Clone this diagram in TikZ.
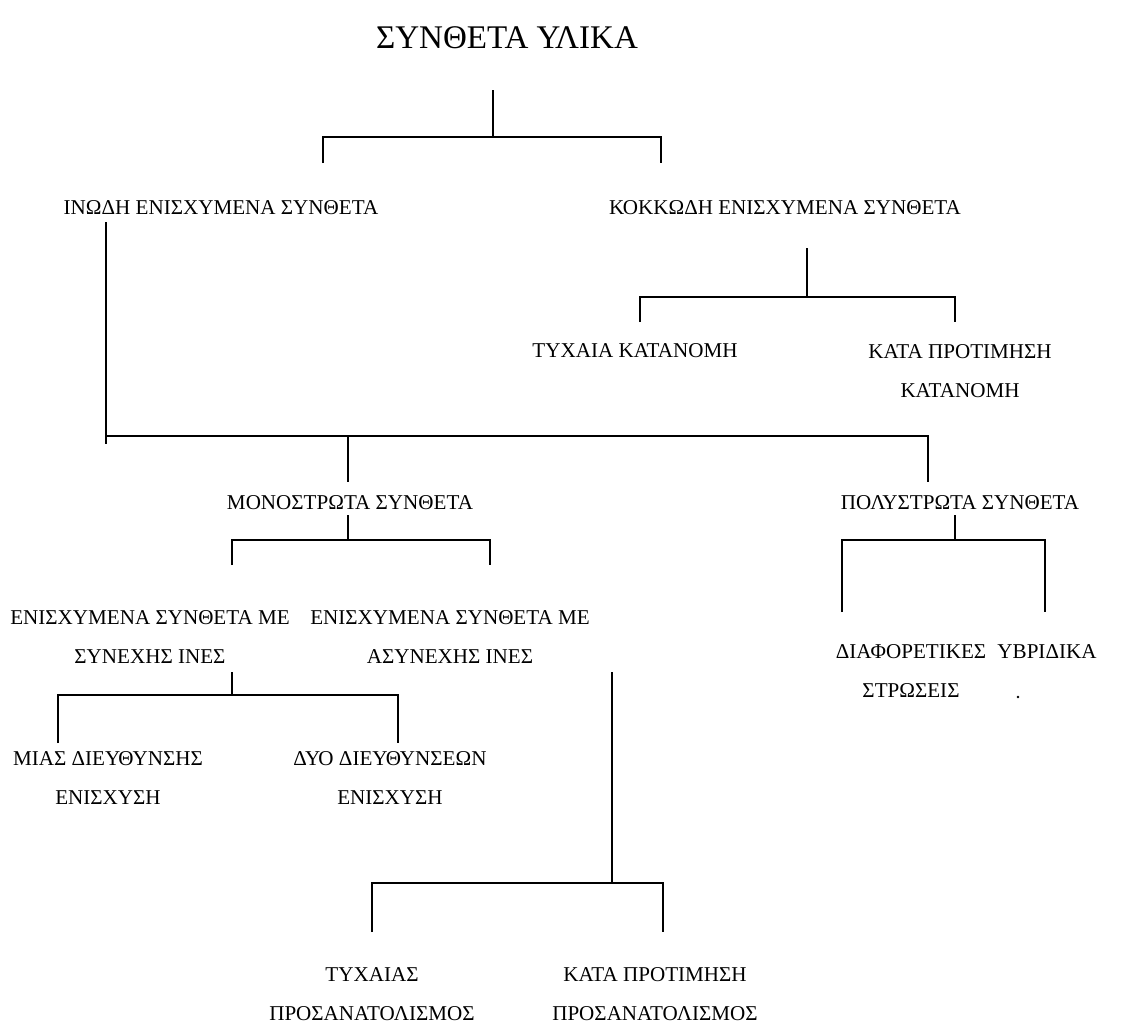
\documentclass[tikz,border=0pt]{standalone}
\usepackage{fontspec}
\setmainfont{Liberation Serif}

\begin{document}
\begin{tikzpicture}[x=0.025cm, y=-0.025cm]
\tikzset{
    %Define style for the labels
    lbl/.style={
           font=\fontsize{15}{27.7}\selectfont,
           align=center,
           inner sep=0pt},
    %Define style for the title
    ttl/.style={
           font=\fontsize{23.5}{28}\selectfont,
           inner sep=0pt},
    % Define line style
    tree/.style={
           line width=1.3pt}
}
\useasboundingbox (0,0) rectangle (1122,1028);
 %nodes
 \node[ttl] (ylika) at (507,38) {ΣΥΝΘΕΤΑ ΥΛΙΚΑ};
 \node[lbl] (inodi) at (221,208) {ΙΝΩΔΗ ΕΝΙΣΧΥΜΕΝΑ ΣΥΝΘΕΤΑ};
 \node[lbl] (kokkodi) at (785,208) {ΚΟΚΚΩΔΗ ΕΝΙΣΧΥΜΕΝΑ ΣΥΝΘΕΤΑ};
 \node[lbl] (tyxaia) at (635,351) {ΤΥΧΑΙΑ ΚΑΤΑΝΟΜΗ};
 \node[lbl] (protim) at (960,371) {ΚΑΤΑ ΠΡΟΤΙΜΗΣΗ\\ΚΑΤΑΝΟΜΗ};
 \node[lbl] (mono) at (350,503) {ΜΟΝΟΣΤΡΩΤΑ ΣΥΝΘΕΤΑ};
 \node[lbl] (poly) at (960,503) {ΠΟΛΥΣΤΡΩΤΑ ΣΥΝΘΕΤΑ};
 \node[lbl] (syn) at (150,637) {ΕΝΙΣΧΥΜΕΝΑ ΣΥΝΘΕΤΑ ΜΕ\\ΣΥΝΕΧΗΣ ΙΝΕΣ};
 \node[lbl] (asyn) at (450,637) {ΕΝΙΣΧΥΜΕΝΑ ΣΥΝΘΕΤΑ ΜΕ\\ΑΣΥΝΕΧΗΣ ΙΝΕΣ};
 \node[lbl] (diaf) at (911,671) {ΔΙΑΦΟΡΕΤΙΚΕΣ\\ΣΤΡΩΣΕΙΣ};
 \node[lbl] (yvr) at (1047,652) {ΥΒΡΙΔΙΚΑ};
 \node[lbl] (mias) at (108,778) {ΜΙΑΣ ΔΙΕΥΘΥΝΣΗΣ\\ΕΝΙΣΧΥΣΗ};
 \node[lbl] (dyo) at (390,778) {ΔΥΟ ΔΙΕΥΘΥΝΣΕΩΝ\\ΕΝΙΣΧΥΣΗ};
 \node[lbl] (typros) at (372,994) {ΤΥΧΑΙΑΣ\\ΠΡΟΣΑΝΑΤΟΛΙΣΜΟΣ};
 \node[lbl] (prpros) at (655,994) {ΚΑΤΑ ΠΡΟΤΙΜΗΣΗ\\ΠΡΟΣΑΝΑΤΟΛΙΣΜΟΣ};
 \fill (1018,697) circle (1.4);

 %junction points
 \coordinate (st0) at (493,90);  \coordinate (j0) at (493,137);
 \coordinate (l0a) at (323,163); \coordinate (l0b) at (661,163);
 \coordinate (st1) at (807,248); \coordinate (j1) at (807,297);
 \coordinate (l1a) at (640,322); \coordinate (l1b) at (955,322);
 \coordinate (st2) at (106,222); \coordinate (j2) at (106,436);
 \coordinate (l2a) at (348,482); \coordinate (l2b) at (928,482);
 \coordinate (st3) at (348,515); \coordinate (j3) at (348,540);
 \coordinate (l3a) at (232,565); \coordinate (l3b) at (490,565);
 \coordinate (st4) at (955,515); \coordinate (j4) at (955,540);
 \coordinate (l4a) at (842,612); \coordinate (l4b) at (1045,612);
 \coordinate (st5) at (232,672); \coordinate (j5) at (232,695);
 \coordinate (l5a) at (58,743);  \coordinate (l5b) at (398,743);
 \coordinate (st6) at (612,672); \coordinate (j6) at (612,883);
 \coordinate (l6a) at (372,932); \coordinate (l6b) at (663,932);

 %brackets
 \draw[tree] (st0) -- (j0);
 \draw[tree] (l0a) |- (j0) -| (l0b);
 \draw[tree] (st1) -- (j1);
 \draw[tree] (l1a) |- (j1) -| (l1b);
 \draw[tree] (st2) -- ([yshift=-8*0.025cm]j2);
 \draw[tree] (j2) -| (l2a);
 \draw[tree] (j2) -| (l2b);
 \draw[tree] (st3) -- (j3);
 \draw[tree] (l3a) |- (j3) -| (l3b);
 \draw[tree] (st4) -- (j4);
 \draw[tree] (l4a) |- (j4) -| (l4b);
 \draw[tree] (st5) -- (j5);
 \draw[tree] (l5a) |- (j5) -| (l5b);
 \draw[tree] (st6) -- (j6);
 \draw[tree] (l6a) |- (j6) -| (l6b);
\end{tikzpicture}
\end{document}
